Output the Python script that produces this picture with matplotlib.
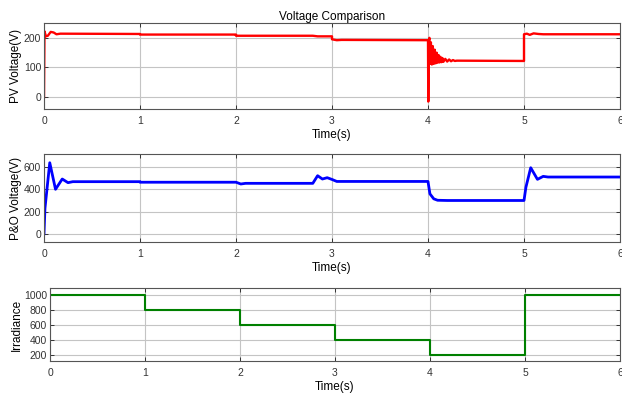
import numpy as np
import matplotlib
matplotlib.use("Agg")
import matplotlib.pyplot as plt

plt.rcParams['font.family'] = ['Liberation Sans', 'DejaVu Sans']

# PV voltage
pv_t = [0.0, 0.005, 0.02, 0.04, 0.07, 0.10, 0.13, 0.17, 1.0, 1.0, 2.0, 2.0, 2.8, 2.85, 3.0,
        3.0, 3.05, 3.1, 4.0,
        4.003, 4.008, 4.015, 4.02, 4.03, 4.04, 4.05, 4.06, 4.07, 4.08, 4.09, 4.10, 4.11,
        4.12, 4.13, 4.14, 4.15, 4.16, 4.18, 4.20, 4.22, 4.24, 4.26, 4.28, 4.30,
        5.0, 5.0, 5.03, 5.06, 5.10, 5.15, 5.2, 6.0]
pv_v = [0, 222, 205, 207, 220, 218, 212, 214, 213, 211, 211, 207, 207, 205, 205,
        195, 192, 193, 192,
        -15, 190, 200, 112, 185, 110, 172, 112, 160, 114, 150, 116, 142,
        117, 136, 118, 132, 119, 129, 120, 127, 121, 125, 122, 123,
        122, 212, 214, 210, 215, 213, 212, 212]

# P&O voltage
po_t = [0.0, 0.01, 0.06, 0.12, 0.19, 0.25, 0.3, 1.0, 1.0, 2.0, 2.05, 2.1, 2.8, 2.85,
        2.9, 2.95, 3.0, 3.05, 4.0, 4.02, 4.06, 4.1, 4.2, 5.0, 5.02, 5.07, 5.14, 5.2, 5.25, 6.0]
po_v = [0, 230, 641, 401, 494, 461, 470, 470, 465, 465, 449, 455, 455, 524,
        494, 506, 490, 472, 472, 360, 315, 302, 300, 300, 420, 596, 491, 518, 512, 512]

# Irradiance
irr_t = [0, 1, 2, 3, 4, 5, 6]
irr_v = [1000, 800, 600, 400, 200, 1000, 1000]

W, H = 622, 394
fig = plt.figure(figsize=(W / 100, H / 100), dpi=100)

ax1 = fig.add_axes([44 / W, 1 - 109 / H, 576 / W, 86 / H])
ax2 = fig.add_axes([44 / W, 1 - 242 / H, 576 / W, 88 / H])
ax3 = fig.add_axes([50 / W, 1 - 361 / H, 570 / W, 73 / H])

ax1.plot(pv_t, pv_v, color='red', lw=1.7)
ax2.plot(po_t, po_v, color='blue', lw=2.0)
ax3.step(irr_t, irr_v, where='post', color='green', lw=1.5)

ax1.set_ylim(-40, 250)
ax1.set_yticks([0, 100, 200])
ax2.set_ylim(-75, 720)
ax2.set_yticks([0, 200, 400, 600])
ax3.set_ylim(115, 1090)
ax3.set_yticks([200, 400, 600, 800, 1000])

ax1.set_ylabel('PV Voltage(V)', fontsize=8.5, labelpad=1)
ax2.set_ylabel('P&O Voltage(V)', fontsize=8.5, labelpad=1)
ax3.set_ylabel('Irradiance', fontsize=8.5, labelpad=1)
ax1.set_title('Voltage Comparison', fontsize=8.5, pad=2)

for ax in (ax1, ax2, ax3):
    ax.set_xlim(0, 6)
    ax.set_xticks(range(7))
    ax.set_xlabel('Time(s)', fontsize=8.5, labelpad=2)
    ax.grid(True, color='#c4c4c4', lw=0.8)
    ax.set_axisbelow(True)
    ax.tick_params(direction='in', top=True, right=True, labelsize=7.5,
                   length=3, width=0.7, colors='#333333', pad=2)
    ax.tick_params(axis='x', pad=5)
    for s in ax.spines.values():
        s.set_color('#555555')
        s.set_linewidth(0.8)

plt.savefig('out.png', dpi=100)
